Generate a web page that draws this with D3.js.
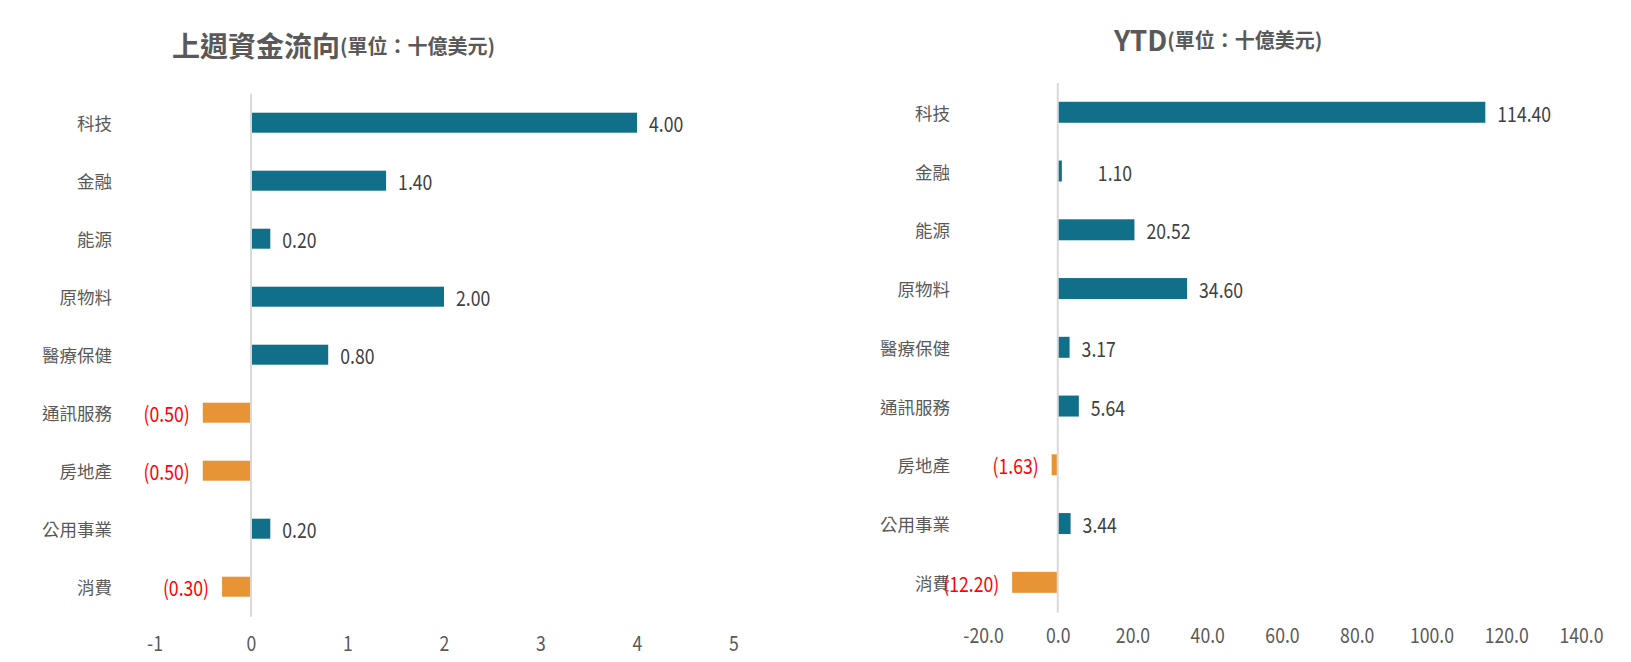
<!DOCTYPE html>
<html>
<head>
<meta charset="utf-8">
<script src="https://cdn.jsdelivr.net/npm/d3@7"></script>
<style>
  body { margin: 0; background: #fff; }
  .num { font-family: "Noto Sans CJK TC", "Noto Sans", sans-serif; }
  .cjk { font-family: "Noto Sans CJK TC", "Noto Sans", sans-serif; }
</style>
</head>
<body>
<svg id="chart" width="1631" height="662"></svg>
<script>
// sector names, top to bottom
const categories = ["科技", "金融", "能源", "原物料", "醫療保健", "通訊服務", "房地產", "公用事業", "消費"];
// last week's flows (USD bn)
const weeklyFlows = [4.00, 1.40, 0.20, 2.00, 0.80, -0.50, -0.50, 0.20, -0.30];
// year-to-date flows (USD bn)
const ytdFlows = [114.40, 1.10, 20.52, 34.60, 3.17, 5.64, -1.63, 3.44, -12.20];
const weeklyTicks = [-1, 0, 1, 2, 3, 4, 5];
const ytdTicks = [-20, 0, 20, 40, 60, 80, 100, 120, 140];

const POS = "#117089", NEG = "#E69436", GREY = "#595959";
// the source uses a narrow font for numbers; squeeze the glyphs a little
const NARROW = 0.84;

const svg = d3.select( "#chart" );

function drawPanel( opts ) {
    const g = svg.append( "g" );

    const x = d3.scaleLinear().domain( opts.domain ).range( opts.xRange );
    // half outer padding so each row takes an equal slice of the range
    const y = d3.scaleBand().domain( categories ).range( opts.yRange )
        .paddingInner( opts.padding ).paddingOuter( opts.padding / 2 );
    const rows = categories.map( ( c, i ) => ( { cat: c, v: opts.values[ i ] } ) );
    const shift = opts.labelShift || {};

    // title
    const t = g.append( "text" )
        .attr( "x", opts.titleX )
        .attr( "y", opts.titleY )
        .attr( "dominant-baseline", "central" )
        .attr( "class", "cjk" )
        .attr( "fill", GREY )
        .attr( "font-weight", "bold" );
    t.append( "tspan" ).attr( "font-size", 28 ).text( opts.title );
    t.append( "tspan" ).attr( "font-size", 20 ).text( "(單位：十億美元)" );

    // bars
    g.selectAll( "rect.bar" )
        .data( rows )
        .enter()
        .append( "rect" )
        .attr( "class", "bar" )
        .attr( "x", d => x( Math.min( 0, d.v ) ) )
        .attr( "width", d => Math.abs( x( d.v ) - x( 0 ) ) )
        .attr( "y", d => y( d.cat ) )
        .attr( "height", y.bandwidth() )
        .attr( "fill", d => d.v < 0 ? NEG : POS );

    // zero line
    g.append( "line" )
        .attr( "x1", x( 0 ) ).attr( "x2", x( 0 ) )
        .attr( "y1", opts.yRange[ 0 ] ).attr( "y2", opts.yRange[ 1 ] + 1 )
        .attr( "stroke", "#d9d9d9" )
        .attr( "stroke-width", 2 );

    // category labels
    g.selectAll( "text.cat" )
        .data( rows )
        .enter()
        .append( "text" )
        .attr( "class", "cat cjk" )
        .attr( "x", opts.labelX )
        .attr( "y", d => y( d.cat ) + y.bandwidth() / 2 )
        .attr( "text-anchor", "end" )
        .attr( "dominant-baseline", "central" )
        .attr( "font-size", 17.5 )
        .attr( "fill", GREY )
        .text( d => d.cat );

    // value labels
    const f = d3.format( ".2f" );
    g.selectAll( "text.val" )
        .data( rows )
        .enter()
        .append( "text" )
        .attr( "class", "val num" )
        .attr( "transform", d => {
            const lx = ( d.v < 0 ? x( d.v ) - 13 : x( d.v ) + 12 ) + ( shift[ d.cat ] || 0 );
            const ly = y( d.cat ) + y.bandwidth() / 2 + 1;
            return `translate(${ lx },${ ly }) scale(${ NARROW },1)`;
        } )
        .attr( "text-anchor", d => d.v < 0 ? "end" : "start" )
        .attr( "dominant-baseline", "central" )
        .attr( "font-size", 21 )
        .attr( "fill", d => d.v < 0 ? "#ff0000" : "#404040" )
        .text( d => d.v < 0 ? `(${ f( -d.v ) })` : f( d.v ) );

    // x axis
    const axis = g.append( "g" )
        .attr( "transform", `translate(0,${ opts.axisY })` )
        .call( d3.axisBottom( x )
            .tickValues( opts.ticks )
            .tickSize( 0 )
            .tickFormat( d => opts.tickFormat( d ).replace( "\u2212", "-" ) ) );
    axis.select( ".domain" ).remove();
    axis.selectAll( "text" )
        .attr( "class", "num" )
        .attr( "font-size", 21 )
        .attr( "fill", GREY )
        .attr( "dy", null )
        .attr( "y", 0 )
        .attr( "transform", `scale(${ NARROW },1)` )
        .attr( "dominant-baseline", "central" );
}

drawPanel( {
    title: "上週資金流向",
    titleX: 172, titleY: 45,
    values: weeklyFlows,
    domain: [ -1, 5 ], xRange: [ 154.5, 733.5 ],
    yRange: [ 93.7, 615.7 ], padding: 0.655,
    labelX: 112,
    ticks: weeklyTicks, tickFormat: d3.format( "d" ),
    axisY: 642
} );

drawPanel( {
    title: "YTD",
    titleX: 1114, titleY: 38.5,
    values: ytdFlows,
    domain: [ -20, 140 ], xRange: [ 983, 1581 ],
    yRange: [ 82.9, 611.7 ], padding: 0.643,
    labelX: 950,
    // the source chart had this label dragged to the right
    labelShift: { "金融": 24 },
    ticks: ytdTicks, tickFormat: d3.format( ".1f" ),
    axisY: 634.5
} );
</script>
</body>
</html>
